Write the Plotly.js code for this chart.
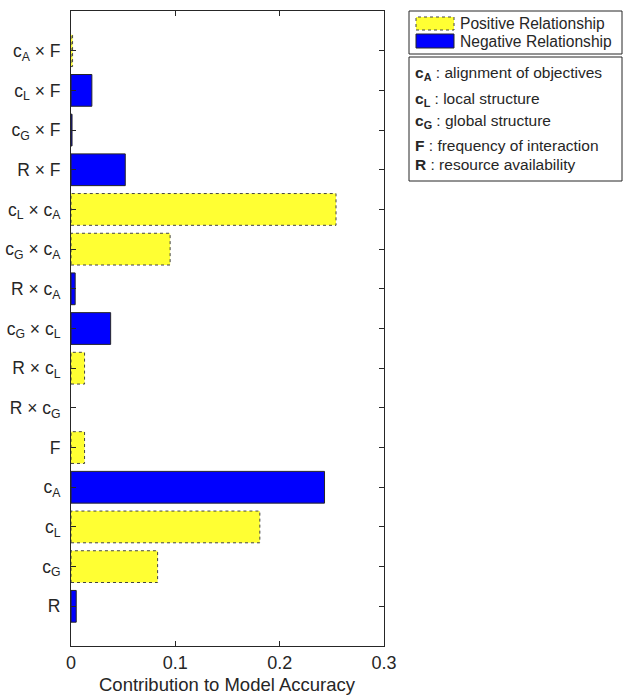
<!DOCTYPE html>
<html>
<head>
<meta charset="utf-8">
<script src="https://cdn.plot.ly/plotly-3.0.1.min.js"></script>
<style>
  html, body { margin: 0; padding: 0; background: #fff; }
  #chart { width: 623px; height: 696px; }
</style>
</head>
<body>
<div id="chart"></div>
<script>
// Predictors, listed bottom to top
const termLabels = [
  'R',
  'c<sub>G</sub>',
  'c<sub>L</sub>',
  'c<sub>A</sub>',
  'F',
  'R × c<sub>G</sub>',
  'R × c<sub>L</sub>',
  'c<sub>G</sub> × c<sub>L</sub>',
  'R × c<sub>A</sub>',
  'c<sub>G</sub> × c<sub>A</sub>',
  'c<sub>L</sub> × c<sub>A</sub>',
  'R × F',
  'c<sub>G</sub> × F',
  'c<sub>L</sub> × F',
  'c<sub>A</sub> × F'
];

// Contribution of each term to model accuracy
const contribution = [
  0.005, 0.083, 0.181, 0.243, 0.013,
  0.000, 0.013, 0.038, 0.004, 0.095,
  0.254, 0.052, 0.001, 0.020, 0.0015
];

// Direction of each relationship
const relationship = [
  'neg', 'pos', 'pos', 'neg', 'pos',
  'pos', 'pos', 'neg', 'neg', 'pos',
  'pos', 'neg', 'neg', 'neg', 'pos'
];

const xTicks = [0, 0.1, 0.2, 0.3];
const xTickText = ['0', '0.1', '0.2', '0.3'];
const xTitle = 'Contribution to Model Accuracy';

const legendEntries = ['Positive Relationship', 'Negative Relationship'];
const keyLines = [
  '<b>c<sub>A</sub></b> : alignment of objectives',
  '<b>c<sub>L</sub></b> : local structure',
  '<b>c<sub>G</sub></b> : global structure',
  '<b>F</b> : frequency of interaction',
  '<b>R</b> : resource availability'
];

const FONT = 'Liberation Sans, Arial, Helvetica, sans-serif';
const INK = '#262626';
const YELLOW = '#ffff33';
const BLUE = '#0000ff';
const BAR_W = 0.8;

const pos = termLabels.map((_, i) => i);
const posX = contribution.map((v, i) => relationship[i] === 'pos' ? v : null);
const negX = contribution.map((v, i) => relationship[i] === 'neg' ? v : null);

const traces = [
  {
    type: 'bar', orientation: 'h', name: legendEntries[0],
    x: posX, y: pos, width: BAR_W,
    marker: { color: YELLOW, line: { width: 0 } },
    hoverinfo: 'x'
  },
  {
    type: 'bar', orientation: 'h', name: legendEntries[1],
    x: negX, y: pos, width: BAR_W,
    marker: { color: BLUE, line: { color: INK, width: 1 } },
    hoverinfo: 'x'
  }
];

// Dotted outlines around the positive bars
const shapes = [];
contribution.forEach((v, i) => {
  if (relationship[i] === 'pos' && v > 0) {
    shapes.push({
      type: 'rect', xref: 'x', yref: 'y',
      x0: 0, x1: v, y0: i - BAR_W / 2, y1: i + BAR_W / 2,
      line: { color: '#444', width: 1, dash: 'dot' },
      fillcolor: 'rgba(0,0,0,0)', layer: 'above'
    });
  }
});

// Plot area in pixels, used to place the legend panels beside it
const PL = 71, PR = 384, PT = 11, PB = 646;
const px = p => (p - PL) / (PR - PL);
const py = p => (PB - p) / (PB - PT);

function paperRect(x0, y0, x1, y1, fill, line) {
  return {
    type: 'rect', xref: 'paper', yref: 'paper',
    x0: px(x0), x1: px(x1), y0: py(y1), y1: py(y0),
    fillcolor: fill, line: line, layer: 'above'
  };
}

// Legend panel
shapes.push(paperRect(409, 11, 622, 54, '#fff', { color: INK, width: 1 }));
shapes.push(paperRect(416, 17, 454, 30, YELLOW, { color: '#444', width: 1, dash: 'dot' }));
shapes.push(paperRect(416, 34, 454, 48, BLUE, { color: INK, width: 1 }));
// Key panel
shapes.push(paperRect(409, 57, 622, 181, '#fff', { color: INK, width: 1 }));

const annotations = [];
[23, 41].forEach((yc, k) => {
  annotations.push({
    xref: 'paper', yref: 'paper', x: px(458), y: py(yc),
    xanchor: 'left', yanchor: 'middle', showarrow: false,
    text: legendEntries[k],
    font: { family: FONT, size: 15.6, color: INK }
  });
});
[74, 99, 122, 145, 164].forEach((yc, k) => {
  annotations.push({
    xref: 'paper', yref: 'paper', x: px(413), y: py(yc),
    xanchor: 'left', yanchor: 'middle', showarrow: false,
    text: keyLines[k],
    font: { family: FONT, size: 15.5, color: INK }
  });
});
// X-axis title
annotations.push({
  xref: 'paper', yref: 'paper', x: 0.5, y: py(684),
  xanchor: 'center', yanchor: 'middle', showarrow: false,
  text: xTitle,
  font: { family: FONT, size: 18.5, color: INK }
});

const layout = {
  width: 623, height: 696,
  margin: { l: PL, r: 623 - PR, t: PT, b: 696 - PB },
  paper_bgcolor: '#fff', plot_bgcolor: '#fff',
  showlegend: false,
  barmode: 'overlay',
  font: { family: FONT, color: INK },
  xaxis: {
    range: [0, 0.3], tickvals: xTicks, ticktext: xTickText,
    ticks: 'inside', ticklen: 5, tickwidth: 1, tickcolor: INK,
    showline: true, linecolor: INK, linewidth: 1, mirror: 'ticks',
    showgrid: false, zeroline: false,
    tickfont: { family: FONT, size: 18, color: INK }
  },
  yaxis: {
    range: [-1, 15], tickvals: pos, ticktext: termLabels,
    ticks: 'inside', ticklen: 5, tickwidth: 1, tickcolor: INK,
    showline: true, linecolor: INK, linewidth: 1, mirror: 'ticks',
    showgrid: false, zeroline: false, ticklabelstandoff: 6,
    tickfont: { family: FONT, size: 17.5, color: INK }
  },
  shapes: shapes,
  annotations: annotations
};

Plotly.newPlot('chart', traces, layout, { displayModeBar: false, staticPlot: true });
</script>
</body>
</html>
